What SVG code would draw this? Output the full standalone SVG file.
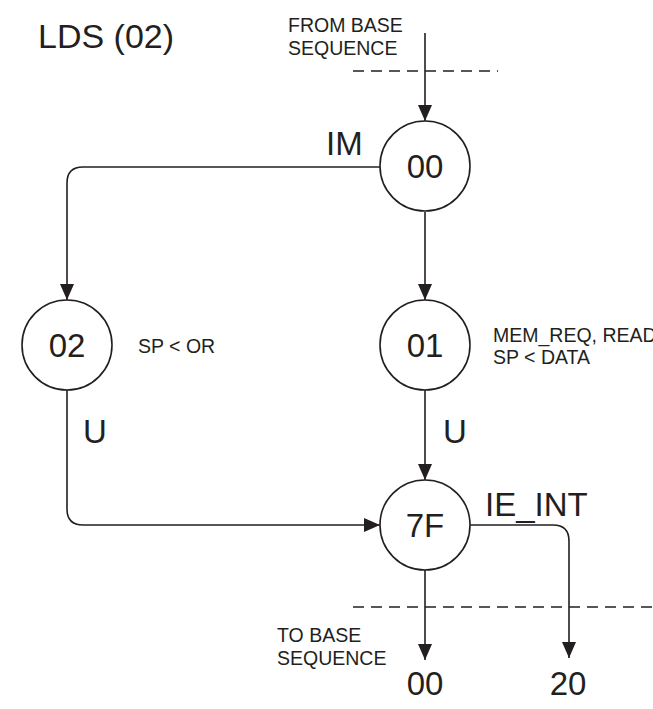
<svg xmlns="http://www.w3.org/2000/svg" width="653" height="709" viewBox="0 0 653 709">
<style>
.node{fill:#fff;stroke:#231f20;stroke-width:1.6}
.edge{fill:none;stroke:#231f20;stroke-width:1.6}
.dash{fill:none;stroke:#231f20;stroke-width:1.6;stroke-dasharray:11 7}
.big{font-family:"Liberation Sans",Arial,sans-serif;font-size:33px;fill:#231f20}
.nt{font-family:"Liberation Sans",Arial,sans-serif;font-size:33px;fill:#231f20;text-anchor:middle}
.sm{font-family:"Liberation Sans",Arial,sans-serif;font-size:19.5px;fill:#231f20}
</style>
<defs>
<marker id="arr" viewBox="0 0 16 14" refX="16" refY="7" markerWidth="16" markerHeight="14" markerUnits="userSpaceOnUse" orient="auto">
<path d="M0,0 L16,7 L0,14 Z" fill="#231f20"/>
</marker>
</defs>
<text class="big" x="38" y="48" style="font-size:34px">LDS (02)</text>
<text class="sm" x="288" y="32">FROM BASE</text>
<text class="sm" x="288" y="55">SEQUENCE</text>
<line class="dash" x1="353" y1="71" x2="498" y2="71"/>
<g id="connectors">
<line class="edge" x1="425" y1="33" x2="425" y2="121" marker-end="url(#arr)"/>
<path class="edge" d="M380,167 H83 Q67,167 67,183 V300" marker-end="url(#arr)"/>
<line class="edge" x1="425" y1="212" x2="425" y2="300" marker-end="url(#arr)"/>
<line class="edge" x1="425" y1="390" x2="425" y2="480" marker-end="url(#arr)"/>
<path class="edge" d="M67,390 V509 Q67,525 83,525 H380" marker-end="url(#arr)"/>
<path class="edge" d="M470,525 H553 Q569,525 569,541 V658" marker-end="url(#arr)"/>
<line class="edge" x1="425" y1="570" x2="425" y2="660" marker-end="url(#arr)"/>
</g>
<g id="labels">
<text class="big" x="326" y="155">IM</text>
<text class="big" x="83" y="443">U</text>
<text class="big" x="443" y="443">U</text>
<text class="big" x="485" y="516">IE_INT</text>
<text class="sm" x="138" y="353">SP &lt; OR</text>
<text class="sm" x="493" y="342">MEM_REQ, READ</text>
<text class="sm" x="493" y="364">SP &lt; DATA</text>
</g>
<g id="node00"><circle class="node" cx="425" cy="166" r="45"/><text class="nt" x="425" y="178">00</text></g>
<g id="node02"><circle class="node" cx="67" cy="345" r="45"/><text class="nt" x="67" y="357">02</text></g>
<g id="node01"><circle class="node" cx="425" cy="345" r="45"/><text class="nt" x="425" y="357">01</text></g>
<g id="node7F"><circle class="node" cx="425" cy="525" r="45"/><text class="nt" x="425" y="537">7F</text></g>
<line class="dash" x1="353" y1="607" x2="653" y2="607"/>
<text class="sm" x="277" y="642">TO BASE</text>
<text class="sm" x="277" y="665">SEQUENCE</text>
<g id="exit00"><text class="nt" x="425" y="695">00</text></g>
<g id="exit20"><text class="nt" x="568" y="695">20</text></g>
</svg>
